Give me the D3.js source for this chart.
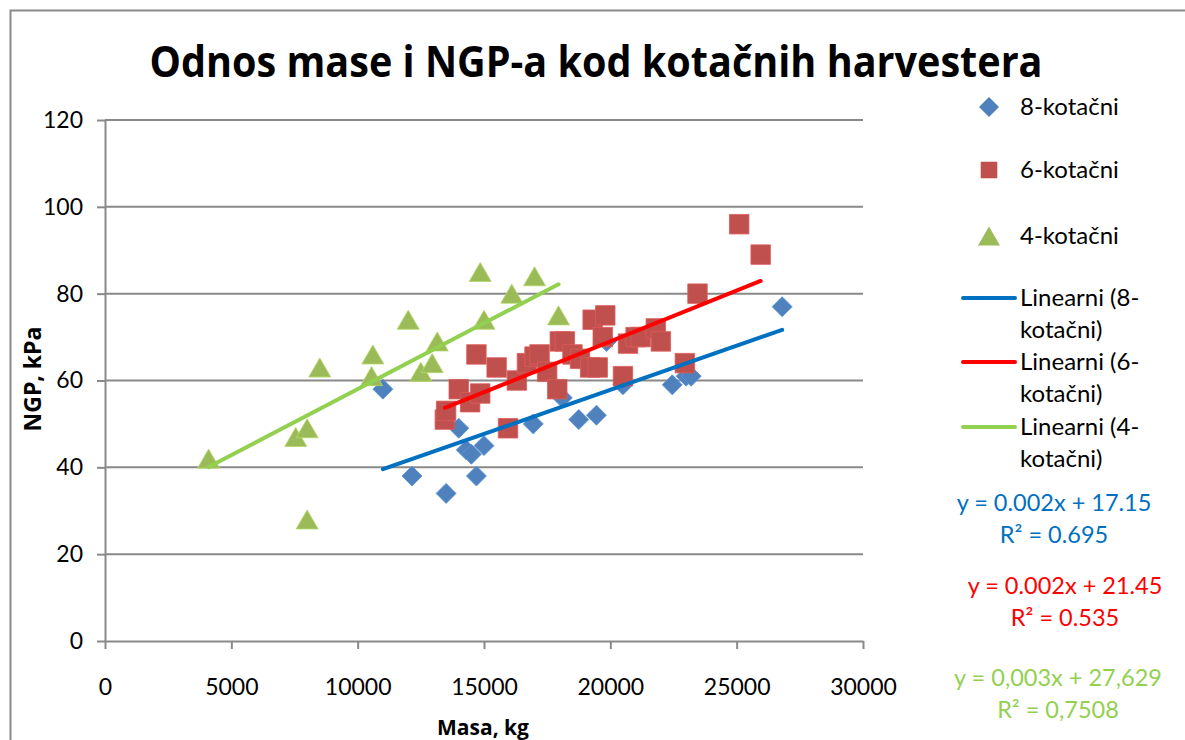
<!DOCTYPE html>
<html><head><meta charset="utf-8">
<script src="https://cdn.jsdelivr.net/npm/d3@7"></script>
<style>
html,body{margin:0;padding:0;background:#fff;}
svg{display:block;font-family:Lato, "Open Sans", sans-serif;}
</style></head>
<body><svg id="c" width="1185" height="740"></svg>
<script>
// ---- data ----
const xTicks = [0,5000,10000,15000,20000,25000,30000];
const yTicks = [0,20,40,60,80,100,120];

const eightX = [11000,12150,13500,14000,14300,14500,14700,15000,16950,18100,18750,19450,19850,20500,22450,23000,23200,26800];
const eightY = [58,38,34,49,44,43,38,45,50,56,51,52,69,59,59,61,61,77];

const sixX = [13450,13500,14000,14450,14700,14850,15500,15950,16300,16700,17000,17200,17500,17900,18000,18200,18500,18800,19200,19300,19500,19700,19800,20500,20700,21000,21200,21800,22000,22950,23450,25100,25950];
const sixY = [51,53,58,55,66,57,63,49,60,64,65.5,66,62,58,69,69,66,65,63,74,63,70,75,61,68.5,70,70,72,69,64,80,96,89];

const fourX = [4100,7550,8000,8000,8500,10600,10550,12000,12500,12950,13150,14850,15000,16100,17000,17950];
const fourY = [42,47,49,28,63,66,61,74,62,64,69,85,74,80,84,75];

// trend lines as drawn in the picture (slope, intercept)
const trendSlope = [0.00203, 0.00234, 0.00304];
const trendIntercept = [17.25, 22.2, 27.6];

const seriesNames = ["8-kotačni","6-kotačni","4-kotačni"];
const trendNames = ["Linearni (8-","Linearni (6-","Linearni (4-"];
const equations = [["y = 0.002x + 17.15","R² = 0.695"],["y = 0.002x + 21.45","R² = 0.535"],["y = 0,003x + 27,629","R² = 0,7508"]];

const title = "Odnos mase i NGP-a kod kotačnih harvestera";
const xTitle = "Masa, kg";
const yTitle = "NGP, kPa";

// ---- styles ----
const markerColors = ["#4F81BD","#C0504D","#9BBB59"];
const trendColors = ["#0070C0","#FF0000","#92D050"];
const gridColor = "#898989";

const svg = d3.select("#c");
svg.append("rect").attr("x",0).attr("y",0).attr("width",1185).attr("height",740).attr("fill","#fff");
svg.append("rect").attr("x",10.5).attr("y",10.5).attr("width",1250).attr("height",800)
  .attr("fill","none").attr("stroke","#8a8a8a").attr("stroke-width",2);

const x = d3.scaleLinear().domain([0,30000]).range([105,863]);
const y = d3.scaleLinear().domain([0,120]).range([641,120]);

// title
svg.append("text").attr("x",596).attr("y",77).attr("text-anchor","middle")
  .attr("font-size",43).attr("font-weight","bold").attr("fill","#000")
  .attr("font-family","'Open Sans', sans-serif")
  .attr("textLength",893).attr("lengthAdjust","spacingAndGlyphs")
  .text(title);

// gridlines
svg.append("g").selectAll("line").data(yTicks.filter(d=>d>0)).join("line")
  .attr("x1",x(0)).attr("x2",x(30000)).attr("y1",d=>y(d)).attr("y2",d=>y(d))
  .attr("stroke",gridColor).attr("stroke-width",2);

// axes
const yAxis = svg.append("g").attr("transform",`translate(${x(0)},0)`)
  .call(d3.axisLeft(y).tickValues(yTicks).tickSize(8).tickPadding(14).tickSizeOuter(0));
const xAxis = svg.append("g").attr("transform",`translate(0,${y(0)})`)
  .call(d3.axisBottom(x).tickValues(xTicks).tickSize(8).tickPadding(30).tickSizeOuter(0).tickFormat(d3.format("d")));
[yAxis,xAxis].forEach(g=>{
  g.select(".domain").attr("stroke",gridColor).attr("stroke-width",2);
  g.selectAll(".tick line").attr("stroke",gridColor).attr("stroke-width",2);
  g.selectAll(".tick text").attr("font-size",23).attr("fill","#000").attr("font-family","Lato, sans-serif");
});

// axis titles
svg.append("text").attr("x",483).attr("y",735).attr("text-anchor","middle")
  .attr("font-size",21).attr("font-weight","bold").attr("font-family","'Open Sans', sans-serif").text(xTitle);
svg.append("text").attr("transform","translate(41,379) rotate(-90)").attr("text-anchor","middle")
  .attr("font-size",23).attr("font-weight","bold").attr("font-family","'Open Sans', sans-serif").text(yTitle);

// markers
const triSize = 210;
const triOff = Math.sqrt(triSize/(Math.sqrt(3)*3))/2; // shift so bbox is centred
const diamond = d3.symbol().type(d3.symbolSquare).size(200)();
const square = d3.symbol().type(d3.symbolSquare).size(380)();
const tri = d3.symbol().type(d3.symbolTriangle).size(triSize)();

function pts(xs,ys){return xs.map((v,i)=>({x:v,y:ys[i]}));}
const series = [pts(eightX,eightY),pts(sixX,sixY),pts(fourX,fourY)];
const shapes = [diamond,square,tri];
const rot = [45,0,0];
const offs = [0,0,triOff];

series.forEach((s,i)=>{
  svg.append("g").selectAll("path").data(s).join("path")
    .attr("d",shapes[i])
    .attr("transform",d=>`translate(${x(d.x)},${y(d.y)+offs[i]}) rotate(${rot[i]})`)
    .attr("fill",markerColors[i]).attr("stroke",d3.color(markerColors[i]).brighter(0.4)).attr("stroke-width",0.8);
});

// trendlines
series.forEach((s,i)=>{
  const x0=d3.min(s,d=>d.x), x1=d3.max(s,d=>d.x);
  const f=v=>trendIntercept[i]+trendSlope[i]*v;
  svg.append("line").attr("x1",x(x0)).attr("y1",y(f(x0)))
    .attr("x2",x(x1)).attr("y2",y(f(x1)))
    .attr("stroke",trendColors[i]).attr("stroke-width",4).attr("stroke-linecap","round");
});

// legend
const lg = svg.append("g").attr("font-size",24).attr("font-family","Lato, sans-serif").attr("fill","#000");
const legY = [107,170,236];
legY.forEach((ly,i)=>{
  lg.append("path").attr("d",shapes[i]).attr("transform",`translate(989,${ly+offs[i]}) rotate(${rot[i]})${i==1?" scale(0.85)":""}`)
    .attr("fill",markerColors[i]);
  lg.append("text").attr("x",1020).attr("y",ly).attr("dy","0.35em").text(seriesNames[i]);
});
const trendY = [298,362,427];
trendY.forEach((ly,i)=>{
  lg.append("line").attr("x1",963).attr("x2",1015).attr("y1",ly).attr("y2",ly)
    .attr("stroke",trendColors[i]).attr("stroke-width",4).attr("stroke-linecap","round");
  lg.append("text").attr("x",1020).attr("y",ly).attr("dy","0.35em").text(trendNames[i]);
  lg.append("text").attr("x",1020).attr("y",ly+32).attr("dy","0.35em").text("kotačni)");
});

// equations
const eqPos = [[1054,503],[1065,586],[1058,678]];
equations.forEach((e,i)=>{
  e.forEach((t,j)=>{
    svg.append("text").attr("x",eqPos[i][0]).attr("y",eqPos[i][1]+j*32).attr("dy","0.35em")
      .attr("text-anchor","middle").attr("font-size",23.5).attr("font-family","Lato, sans-serif")
      .attr("fill",trendColors[i]).text(t);
  });
});
</script></body></html>
